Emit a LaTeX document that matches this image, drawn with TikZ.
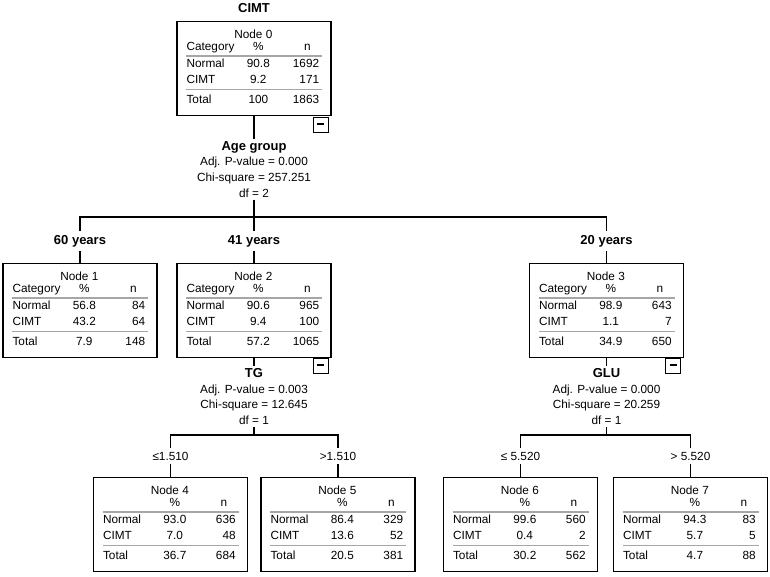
\documentclass[tikz,border=0pt]{standalone}
\usepackage{fontspec}
\setmainfont{Liberation Sans}
\usetikzlibrary{positioning}
\tikzset
{
    treenode/.style  = {rectangle, draw=black, line width=1.3pt, minimum width=154pt, minimum height=94pt, anchor=north, inner sep=0pt},
    cell/.style      = {inner sep=0pt, font=\fontsize{11.8}{14}\selectfont},
    rowline/.style   = {draw=gray!70, line width=1.2pt},
    branch/.style    = {inner sep=4pt, font=\fontsize{13}{15}\selectfont\bfseries},
    cutlabel/.style  = {inner sep=4pt, font=\fontsize{11.8}{14}\selectfont},
    splitinfo/.style = {align=center, inner sep=2pt, anchor=north, font=\fontsize{11.8}{15.7}\selectfont},
    collapse/.style  = {rectangle, draw=black, line width=1pt, fill=white, minimum size=15pt, inner sep=0pt, anchor=north east},
    link/.style      = {line width=1.5pt}
}
\newcommand{\catnode}[9]{%
  \node [treenode] at (#2) (n#1) {};
  \begin{scope}[shift={(n#1.north west)}]
    \node [cell] at (77,13) {Node #1};
    \node [cell, anchor=mid west] at (10,26.5) {#3};
    \node [cell, anchor=mid] at (82,26.5) {\%};
    \node [cell, anchor=mid] at (131,26.5) {n};
    \draw [rowline] (10,35) -- (146,35);
    \node [cell, anchor=mid west] at (10,44) {Normal};
    \node [cell, anchor=mid] at (82,44) {#4};
    \node [cell, anchor=mid east] at (143,44) {#5};
    \node [cell, anchor=mid west] at (10,59.5) {CIMT};
    \node [cell, anchor=mid] at (82,59.5) {#6};
    \node [cell, anchor=mid east] at (143,59.5) {#7};
    \draw [rowline] (10,68.5) -- (146,68.5);
    \node [cell, anchor=mid west] at (10,80) {Total};
    \node [cell, anchor=mid] at (82,80) {#8};
    \node [cell, anchor=mid east] at (143,80) {#9};
  \end{scope}}

\begin{document}
\begin{tikzpicture}[x=1pt, y=-1pt]
\useasboundingbox (0,0) rectangle (770,576);
\node [branch] at (254,8) (root) {CIMT};
\catnode{0}{254,21}{Category}{90.8}{1692}{9.2}{171}{100}{1863}
\node [collapse] at ([xshift=-3pt,yshift=-1pt]n0.south east) (m0) {\rule[2.5pt]{7pt}{2.4pt}};
\node [splitinfo] at (254,139) (s0) {{\fontsize{13}{15.7}\selectfont\bfseries Age group}\\Adj. P-value = 0.000\\Chi-square = 257.251\\df = 2};
\coordinate (b0) at (254,217);
\node [branch] at (80,241) (a60) {60 years};
\node [branch] at (254,241) (a41) {41 years};
\node [branch] at (606.5,241) (a20) {20 years};
\catnode{1}{80,263}{Category}{56.8}{84}{43.2}{64}{7.9}{148}
\catnode{2}{254,263}{Category}{90.6}{965}{9.4}{100}{57.2}{1065}
\catnode{3}{606.5,263}{Category}{98.9}{643}{1.1}{7}{34.9}{650}
\node [collapse] at ([xshift=-3pt]n2.south east) (m2) {\rule[2.5pt]{7pt}{2.4pt}};
\node [collapse] at ([xshift=-3pt]n3.south east) (m3) {\rule[2.5pt]{7pt}{2.4pt}};
\node [splitinfo] at (254,366.3) (s2) {{\fontsize{13}{15.7}\selectfont\bfseries TG}\\Adj. P-value = 0.003\\Chi-square = 12.645\\df = 1};
\node [splitinfo] at (606.5,366.3) (s3) {{\fontsize{13}{15.7}\selectfont\bfseries GLU}\\Adj. P-value = 0.000\\Chi-square = 20.259\\df = 1};
\coordinate (b2) at (254,435);
\coordinate (b3) at (606.5,435);
\node [cutlabel] at (170.5,456) (c4) {≤1.510};
\node [cutlabel] at (338,456) (c5) {>1.510};
\node [cutlabel] at (520.5,456) (c6) {≤ 5.520};
\node [cutlabel] at (690.5,456) (c7) {> 5.520};
\catnode{4}{170.5,477}{}{93.0}{636}{7.0}{48}{36.7}{684}
\catnode{5}{338,477}{}{86.4}{329}{13.6}{52}{20.5}{381}
\catnode{6}{520.5,477}{}{99.6}{560}{0.4}{2}{30.2}{562}
\catnode{7}{690.5,477}{}{94.3}{83}{5.7}{5}{4.7}{88}
\draw [link] (n0) edge (s0);
\draw [link] (s0) edge (b0);
\draw [link] (a60.north) |- (b0) -| (a20.north);
\draw [link] (b0) edge (a41.north);
\draw [link] (a60) edge (n1);
\draw [link] (a41) edge (n2);
\draw [link] (a20) edge (n3);
\draw [link] (n2) edge (s2);
\draw [link] (n3) edge (s3);
\draw [link] (s2) edge (b2);
\draw [link] (s3) edge (b3);
\draw [link] (c4.north) |- (b2) -| (c5.north);
\draw [link] (c6.north) |- (b3) -| (c7.north);
\draw [link] (c4) edge (n4);
\draw [link] (c5) edge (n5);
\draw [link] (c6) edge (n6);
\draw [link] (c7) edge (n7);
\end{tikzpicture}
\end{document}
